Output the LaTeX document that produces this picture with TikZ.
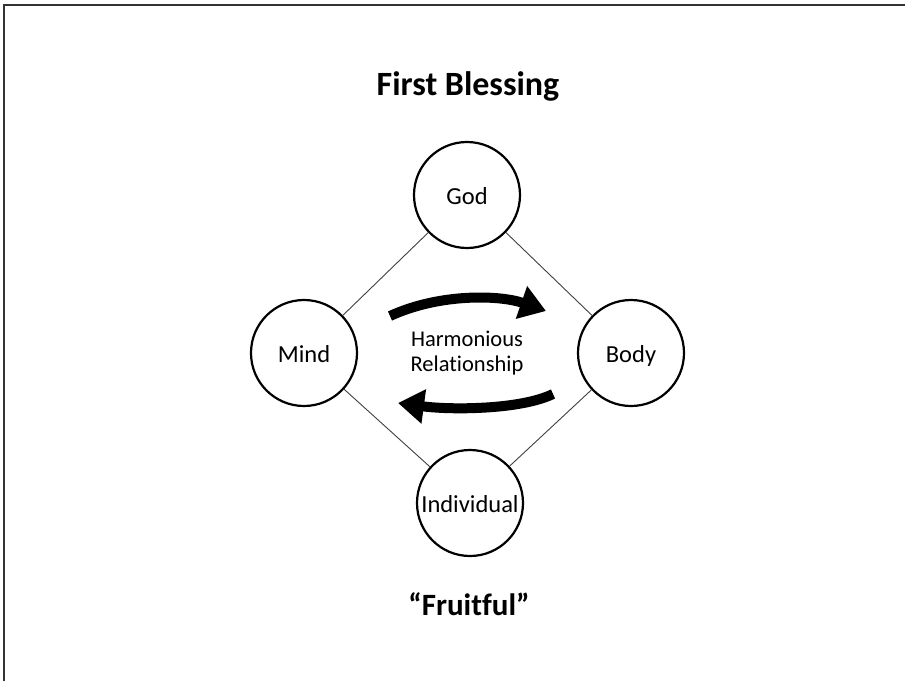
\documentclass[tikz,border=0pt]{standalone}
\usepackage{fontspec}
\setmainfont[Ligatures={NoCommon}]{Carlito}
\usetikzlibrary{arrows.meta}
\begin{document}
\begin{tikzpicture}[x=1pt,y=-1pt,
  ring/.style={circle,draw=black,line width=2.2pt,minimum size=106pt,inner sep=0pt,
    font=\fontsize{24.5}{28}\selectfont,text height=18pt,text depth=0pt},
  link/.style={draw=black!75,line width=0.9pt},
  bigarrow/.style={line width=10pt,-{Triangle[length=26pt,width=33pt]}},
  midtext/.style={font=\fontsize{22.5}{26}\selectfont,anchor=base,inner sep=0pt},
  title/.style={font=\bfseries\fontsize{34}{40}\selectfont,anchor=base,inner sep=0pt}]
\useasboundingbox (0,0) rectangle (905,681);
\fill[white] (0,0) rectangle (905,681);
\draw[black!80,line width=1.6pt] (4,681) -- (4,5) -- (905,5);
\node[title] (ttl) at (468,95) {First Blessing};
\node[title,font=\bfseries\fontsize{31}{36}\selectfont] (frt) at (469,615) {“Fruitful”};
\node[ring] (god) at (467,195) {God};
\node[ring] (mind) at (304,353) {Mind};
\node[ring] (body) at (631,353) {Body};
\node[ring] (ind) at (470,503) {Individual};
\draw[link] (god) -- (mind);
\draw[link] (god) -- (body);
\draw[link] (mind) -- (ind);
\draw[link] (body) -- (ind);
\node[midtext] (h1) at (467,346) {Harmonious};
\node[midtext] (h2) at (467,371) {Relationship};
\coordinate (a1) at (390,316);
\coordinate (a2) at (546,311);
\coordinate (b1) at (553,394);
\coordinate (b2) at (398,403);
\draw[bigarrow] (a1) .. controls (440,293) and (500,295) .. (a2);
\draw[bigarrow] (b1) .. controls (520,410) and (450,410) .. (b2);
\end{tikzpicture}
\end{document}
